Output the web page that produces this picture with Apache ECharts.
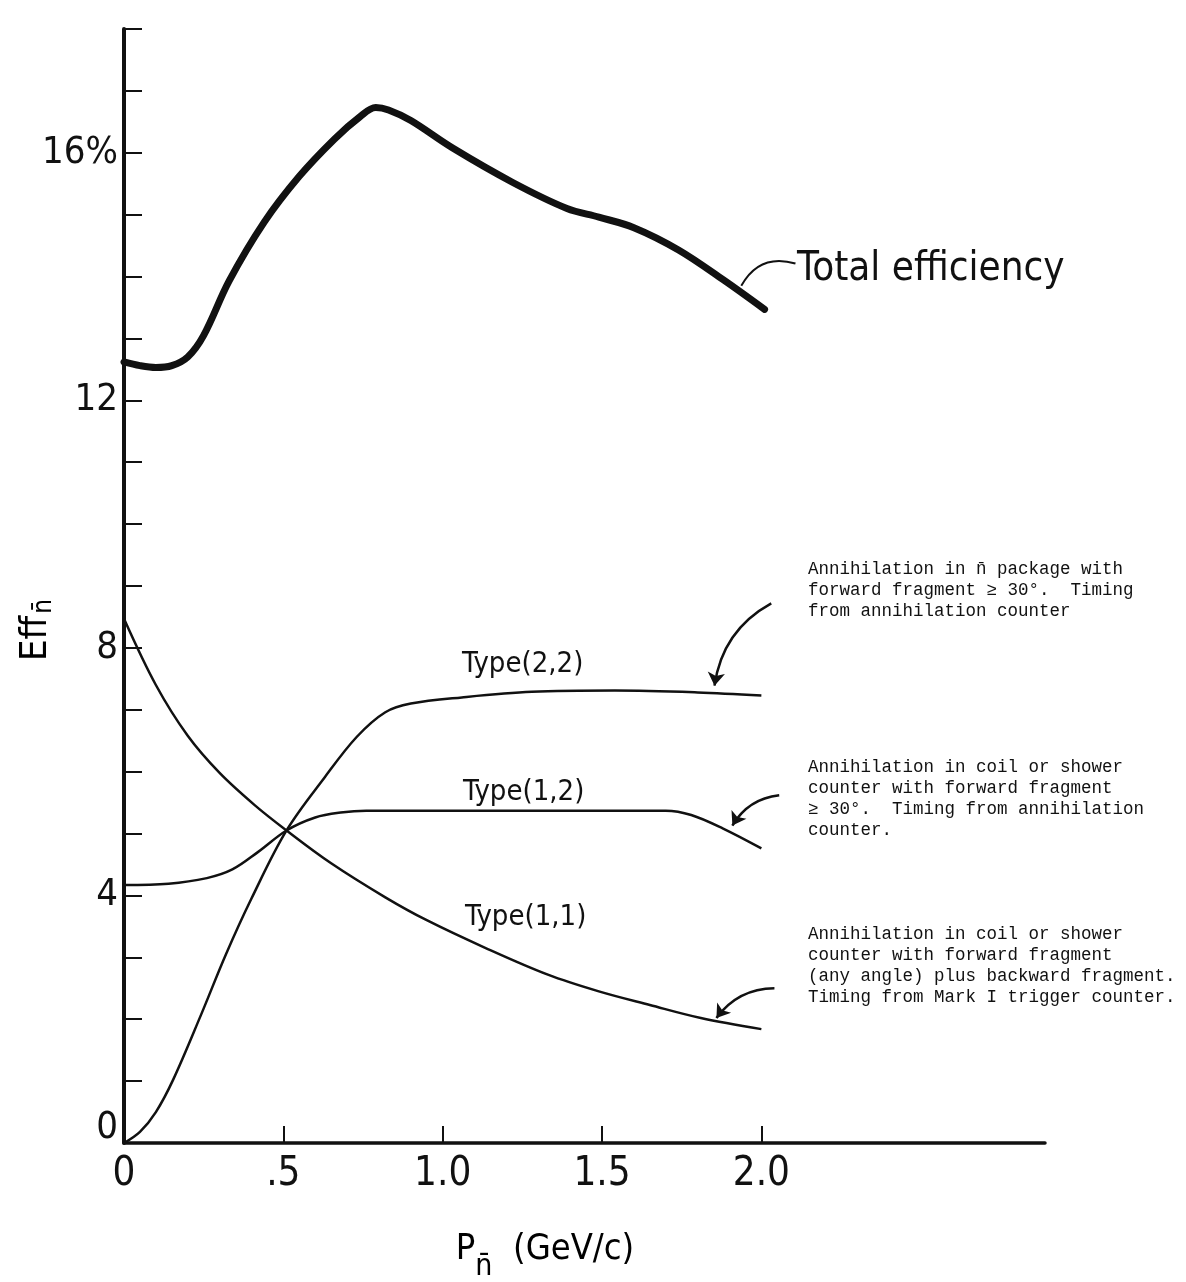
<!DOCTYPE html>
<html>
<head>
<meta charset="utf-8">
<title>Antineutron detection efficiency</title>
<script src="https://cdn.jsdelivr.net/npm/echarts@6/dist/echarts.min.js"></script>
<style>
  html, body { margin: 0; padding: 0; background: #fff; }
  #chart { width: 1186px; height: 1282px; }
</style>
</head>
<body>
<div id="chart"></div>
<script>
// Momentum P (GeV/c) and efficiency (%) for each curve
const totalX = [0, 0.05, 0.10, 0.15, 0.20, 0.25, 0.33, 0.44, 0.55, 0.66, 0.74, 0.79, 0.83, 0.90, 1.03, 1.22, 1.39, 1.49, 1.60, 1.74, 1.88, 2.01];
const totalY = [12.62, 12.56, 12.53, 12.56, 12.70, 13.05, 13.93, 14.88, 15.62, 16.22, 16.58, 16.73, 16.69, 16.52, 16.08, 15.52, 15.10, 14.96, 14.79, 14.43, 13.95, 13.47];

const type11X = [0, 0.10, 0.20, 0.30, 0.41, 0.51, 0.65, 0.82, 0.95, 1.135, 1.33, 1.49, 1.65, 1.81, 2.0];
const type11Y = [8.47, 7.40, 6.58, 5.98, 5.46, 5.05, 4.52, 3.97, 3.60, 3.15, 2.72, 2.45, 2.23, 2.02, 1.84];

const type12X = [0, 0.14, 0.26, 0.34, 0.42, 0.51, 0.60, 0.68, 0.76, 0.90, 1.30, 1.70, 1.78, 1.88, 2.0];
const type12Y = [4.17, 4.19, 4.28, 4.42, 4.70, 5.05, 5.26, 5.34, 5.37, 5.37, 5.37, 5.37, 5.30, 5.08, 4.76];

const type22X = [0, 0.05, 0.10, 0.154, 0.24, 0.32, 0.40, 0.51, 0.63, 0.73, 0.82, 0.90, 1.06, 1.28, 1.54, 1.80, 2.0];
const type22Y = [0.0, 0.18, 0.50, 1.02, 2.05, 3.05, 3.95, 5.05, 5.91, 6.56, 6.96, 7.10, 7.20, 7.29, 7.31, 7.28, 7.23];

// Axis ticks and their labels
const xTickValues = [0, 0.5, 1.0, 1.5, 2.0];
const xTickLabels = ['0', '.5', '1.0', '1.5', '2.0'];
const yTickValues = [0, 4, 8, 12, 16];
const yTickLabels = ['0', '4', '8', '12', '16%'];

// Curve names
const curveNames = ['Total efficiency', 'Type(1,1)', 'Type(1,2)', 'Type(2,2)'];

// Pointers from the notes to the curves, as [from, to] in (P, Eff)
const arrowPaths = [
  [[2.031, 8.72], [1.853, 7.39]],
  [[2.056, 5.62], [1.909, 5.13]],
  [[2.041, 2.50], [1.859, 2.02]]
];
const totalPointer = [[2.107, 14.21], [1.937, 13.85]];

// Note texts beside the lower curves
const noteType22 = [
  'Annihilation in n\u0304 package with',
  'forward fragment \u2265 30\u00b0.  Timing',
  'from annihilation counter'
];
const noteType12 = [
  'Annihilation in coil or shower',
  'counter with forward fragment',
  '\u2265 30\u00b0.  Timing from annihilation',
  'counter.'
];
const noteType11 = [
  'Annihilation in coil or shower',
  'counter with forward fragment',
  '(any angle) plus backward fragment.',
  'Timing from Mark I trigger counter.'
];

const zip = (xs, ys) => xs.map((x, i) => [x, ys[i]]);

const LETTER = "'Liberation Sans Narrow', 'DejaVu Sans Condensed', 'Roboto', sans-serif";
const TYPEWRITER = "'Liberation Mono', 'DejaVu Sans Mono', monospace";
const INK = '#111';

const chart = echarts.init(document.getElementById('chart'), null, { renderer: 'canvas' });

function noteGraphic(lines, left, top) {
  return {
    type: 'text',
    x: left,
    y: top,
    silent: true,
    style: {
      text: lines.join('\n'),
      font: '17.5px ' + TYPEWRITER,
      lineHeight: 21,
      fill: INK,
      align: 'left',
      verticalAlign: 'top'
    }
  };
}

function curveLabel(text, cx, cy, size) {
  return {
    type: 'text',
    x: cx,
    y: cy,
    silent: true,
    style: {
      text: text,
      font: size + 'px ' + LETTER,
      fill: INK,
      align: 'left',
      verticalAlign: 'middle'
    }
  };
}

const option = {
  backgroundColor: '#fff',
  animation: false,
  grid: { left: 124, right: 141, top: 29, bottom: 139, containLabel: false },
  xAxis: {
    type: 'value',
    min: 0,
    max: 2.89,
    interval: 0.5,
    splitLine: { show: false },
    axisLine: { show: true, onZero: false, lineStyle: { color: INK, width: 3.5 } },
    axisTick: {
      show: true,
      inside: true,
      length: 17,
      customValues: xTickValues.slice(1),
      lineStyle: { color: INK, width: 2 }
    },
    axisLabel: {
      customValues: xTickValues,
      margin: 12,
      color: INK,
      fontFamily: LETTER,
      fontSize: 40,
      formatter: v => {
        const i = xTickValues.findIndex(t => Math.abs(t - v) < 1e-6);
        return i >= 0 ? xTickLabels[i] : '';
      }
    }
  },
  yAxis: {
    type: 'value',
    min: 0,
    max: 18,
    interval: 1,
    splitLine: { show: false },
    axisLine: { show: true, onZero: false, lineStyle: { color: INK, width: 4 } },
    axisTick: {
      show: true,
      inside: true,
      length: 18,
      lineStyle: { color: INK, width: 2 }
    },
    axisLabel: {
      customValues: yTickValues,
      margin: 6,
      color: INK,
      fontFamily: LETTER,
      fontSize: 38,
      formatter: v => {
        const i = yTickValues.findIndex(t => Math.abs(t - v) < 1e-6);
        if (i < 0) return '';
        return v === 0 ? '{z|' + yTickLabels[i] + '}' : yTickLabels[i];
      },
      rich: {
        z: { fontFamily: LETTER, fontSize: 38, color: INK, padding: [0, 0, 30, 0] }
      }
    }
  },
  series: [
    {
      name: curveNames[0],
      type: 'line',
      data: zip(totalX, totalY),
      smooth: 0.35,
      symbol: 'none',
      lineStyle: { color: INK, width: 7, cap: 'round', join: 'round' },
      z: 5
    },
    {
      name: curveNames[1],
      type: 'line',
      data: zip(type11X, type11Y),
      smooth: 0.35,
      symbol: 'none',
      lineStyle: { color: INK, width: 2.5 }
    },
    {
      name: curveNames[2],
      type: 'line',
      data: zip(type12X, type12Y),
      smooth: 0.35,
      symbol: 'none',
      lineStyle: { color: INK, width: 2.5 }
    },
    {
      name: curveNames[3],
      type: 'line',
      data: zip(type22X, type22Y),
      smooth: 0.35,
      symbol: 'none',
      lineStyle: { color: INK, width: 2.5 }
    },
    {
      name: 'note pointers',
      type: 'lines',
      coordinateSystem: 'cartesian2d',
      polyline: false,
      silent: true,
      symbol: ['none', 'arrow'],
      symbolSize: 13,
      lineStyle: { color: INK, width: 2.5, curveness: -0.25, opacity: 1 },
      data: arrowPaths.map(p => ({ coords: p }))
    },
    {
      name: 'total pointer',
      type: 'lines',
      coordinateSystem: 'cartesian2d',
      polyline: false,
      silent: true,
      symbol: ['none', 'none'],
      lineStyle: { color: INK, width: 2, curveness: -0.4, opacity: 1 },
      data: [{ coords: totalPointer }]
    }
  ],
  graphic: [
    curveLabel(curveNames[0], 797, 270, 40),
    curveLabel(curveNames[3], 462, 664, 29),
    curveLabel(curveNames[2], 463, 792, 29),
    curveLabel(curveNames[1], 465, 917, 29),
    noteGraphic(noteType22, 808, 559),
    noteGraphic(noteType12, 808, 757),
    noteGraphic(noteType11, 808, 924),
    {
      type: 'text',
      x: 545,
      y: 1250,
      silent: true,
      style: {
        text: '{a|P}{s|n\u0304}{a|  (GeV/c)}',
        align: 'center',
        verticalAlign: 'middle',
        rich: {
          a: { fontFamily: LETTER, fontSize: 36, color: INK },
          s: { fontFamily: LETTER, fontSize: 30, color: INK, padding: [34, 0, 0, 0] }
        }
      }
    },
    {
      type: 'text',
      x: 36,
      y: 630,
      rotation: Math.PI / 2,
      silent: true,
      style: {
        text: '{a|Eff}{s|n\u0304}',
        align: 'center',
        verticalAlign: 'middle',
        rich: {
          a: { fontFamily: LETTER, fontSize: 38, color: INK },
          s: { fontFamily: LETTER, fontSize: 26, color: INK, padding: [16, 0, 0, 2] }
        }
      }
    }
  ]
};

chart.setOption(option);
</script>
</body>
</html>
